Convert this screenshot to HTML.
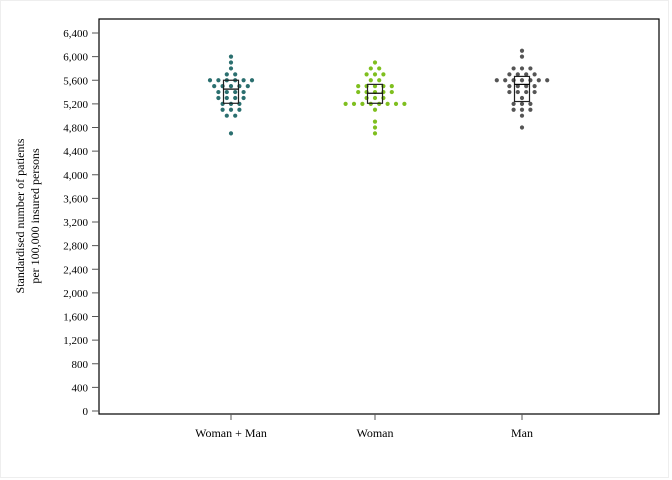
<!DOCTYPE html>
<html><head><meta charset="utf-8"><style>
body{margin:0;background:#fff;}
svg{display:block;font-family:"Liberation Serif",serif;}
</style></head><body>
<svg id="chart" width="672" height="480" viewBox="0 0 672 480" xmlns="http://www.w3.org/2000/svg">
<rect x="0.5" y="0.5" width="668" height="477" fill="#fff" stroke="#eee"/>
<rect x="99" y="19" width="560" height="395" fill="none" stroke="#000" stroke-width="1.2"/>
<g id="yaxis"></g>
<g id="xaxis"></g>
<g id="marks"></g>
<text transform="translate(24,216) rotate(-90)" text-anchor="middle" font-size="12"><tspan x="0" dy="0">Standardised number of patients</tspan><tspan x="0" dy="15">per 100,000 insured persons</tspan></text>
</svg>
<script>
const categories = ["Woman + Man", "Woman", "Man"];
const colors = ["#2b6f6f", "#7fbf1f", "#555555"];
const yTicks = [0,400,800,1200,1600,2000,2400,2800,3200,3600,4000,4400,4800,5200,5600,6000,6400];
// dot counts per value level for each category: [value, count]
const dotsWomanMan = [[6000,1],[5900,1],[5800,1],[5700,2],[5600,6],[5500,5],[5400,4],[5300,4],[5200,3],[5100,3],[5000,2],[4700,1]];
const dotsWoman = [[5900,1],[5800,2],[5700,3],[5600,2],[5500,5],[5400,5],[5300,3],[5200,8],[5100,1],[4900,1],[4800,1],[4700,1]];
const dotsMan = [[6100,1],[6000,1],[5800,3],[5700,4],[5600,7],[5500,4],[5400,4],[5300,1],[5200,3],[5100,3],[5000,1],[4800,1]];
const boxQ1 = [5210, 5210, 5240];
const boxMedian = [5450, 5380, 5530];
const boxQ3 = [5600, 5530, 5665];

const NS="http://www.w3.org/2000/svg";
const y = v => 411 - v * (378/6400);
const xCat = i => [231,375,522][i];
function mk(tag, attrs, parent){const e=document.createElementNS(NS,tag);for(const k in attrs)e.setAttribute(k,attrs[k]);parent.appendChild(e);return e;}
const ya=document.getElementById('yaxis'), xa=document.getElementById('xaxis'), mg=document.getElementById('marks');
yTicks.forEach(t=>{
  const l=mk('line',{x1:92,x2:99,y1:y(t),y2:y(t),stroke:'#555'},ya);
  
  
  const tx=mk('text',{x:88,y:y(t)+4,'text-anchor':'end','font-size':11},ya);
  tx.textContent=t.toLocaleString('en-US');
  
  
});
categories.forEach((c,i)=>{
  const l=mk('line',{x1:xCat(i),x2:xCat(i),y1:414,y2:420,stroke:'#555'},xa);
  
  
  const tx=mk('text',{x:xCat(i),y:437,'text-anchor':'middle','font-size':12},xa);
  tx.textContent=c;
  
  
});
const allDots=[dotsWomanMan,dotsWoman,dotsMan];
allDots.forEach((set,i)=>{
  set.forEach(([v,n])=>{
    for(let k=0;k<n;k++){
      const off=(k-(n-1)/2)*8.4;
      const d=mk('circle',{cx:xCat(i)+off,cy:y(v),r:2.1,fill:colors[i]},mg);
      
      
    }
  });
  const b=mk('rect',{x:xCat(i)-7.5,y:y(boxQ3[i]),width:15,height:y(boxQ1[i])-y(boxQ3[i]),fill:'none',stroke:'#222','stroke-width':1.2},mg);
  
  
  const m=mk('line',{x1:xCat(i)-7.5,x2:xCat(i)+7.5,y1:y(boxMedian[i]),y2:y(boxMedian[i]),stroke:'#000','stroke-width':1.2},mg);
  
  
});
</script>
</body></html>
